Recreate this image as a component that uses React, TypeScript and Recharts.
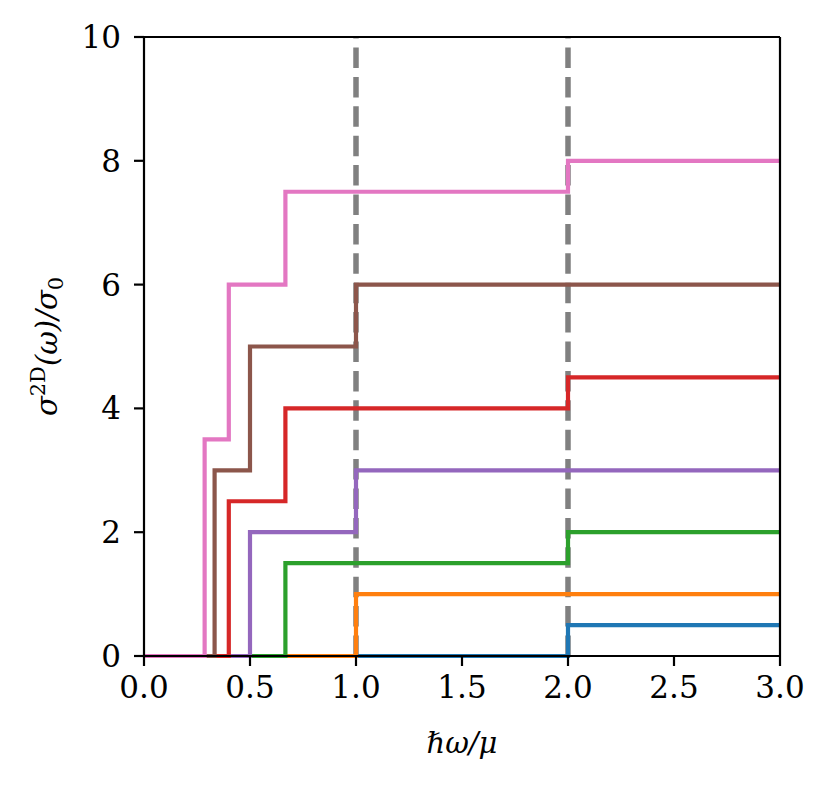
import { LineChart, Line, XAxis, YAxis, ReferenceLine, Label } from 'recharts'

// step positions (hbar*omega/mu) and the plateau values reached there
const xBlue = [0, 2, 3]
const yBlue = [0, 0.5, 0.5]
const xOrange = [0, 1, 3]
const yOrange = [0, 1, 1]
const xGreen = [0, 0.667, 2, 3]
const yGreen = [0, 1.5, 2, 2]
const xPurple = [0, 0.5, 1, 3]
const yPurple = [0, 2, 3, 3]
const xRed = [0, 0.4, 0.667, 2, 3]
const yRed = [0, 2.5, 4, 4.5, 4.5]
const xBrown = [0, 0.333, 0.5, 1, 3]
const yBrown = [0, 3, 5, 6, 6]
const xPink = [0, 0.286, 0.4, 0.667, 2, 3]
const yPink = [0, 3.5, 6, 7.5, 8, 8]

const xTicks = [0, 0.5, 1, 1.5, 2, 2.5, 3]
const yTicks = [0, 2, 4, 6, 8, 10]
const dashedAt = [1, 2]

const series = [
  { name: 'blue', color: '#1f77b4', xs: xBlue, ys: yBlue },
  { name: 'orange', color: '#ff7f0e', xs: xOrange, ys: yOrange },
  { name: 'green', color: '#2ca02c', xs: xGreen, ys: yGreen },
  { name: 'purple', color: '#9467bd', xs: xPurple, ys: yPurple },
  { name: 'red', color: '#d62728', xs: xRed, ys: yRed },
  { name: 'brown', color: '#8c564b', xs: xBrown, ys: yBrown },
  { name: 'pink', color: '#e377c2', xs: xPink, ys: yPink },
]

const FONT = 'DejaVu Serif'
const tickStyle = { fill: '#000', fontSize: 31, fontFamily: FONT }
const blackLine = { stroke: '#000', strokeWidth: 2.2 }

const XTitle = ({ viewBox }: any) => (
  <text
    x={viewBox.x + viewBox.width / 2}
    y={viewBox.y + 97}
    textAnchor="middle"
    fontFamily={FONT}
    fontStyle="italic"
    fontSize={29}
    fill="#000"
  >
    ℏω/μ
  </text>
)

const YTitle = ({ viewBox }: any) => {
  const cx = 57
  const cy = viewBox.y + viewBox.height / 2
  return (
    <text
      x={cx}
      y={cy}
      transform={`rotate(-90, ${cx}, ${cy})`}
      textAnchor="middle"
      fontFamily={FONT}
      fontSize={29}
      fill="#000"
    >
      <tspan fontStyle="italic">σ</tspan>
      <tspan dy={-12} fontSize={21}>2D</tspan>
      <tspan dy={12} fontStyle="italic">(ω)/σ</tspan>
      <tspan dy={6} fontSize={21}>0</tspan>
    </text>
  )
}

export default function App() {
  return (
    <div style={{ width: 832, height: 788 }}>
      <style>{'body{margin:0}'}</style>
      <LineChart
        width={832}
        height={788}
        margin={{ top: 37, right: 52, bottom: 32, left: 0 }}
      >
        <XAxis
          type="number"
          dataKey="x"
          domain={[0, 3]}
          ticks={xTicks}
          interval={0}
          height={100}
          tickSize={10}
          tickMargin={10}
          tick={tickStyle}
          tickLine={blackLine}
          axisLine={blackLine}
          tickFormatter={(v: number) => v.toFixed(1)}
        >
          <Label content={XTitle} />
        </XAxis>
        <YAxis
          type="number"
          dataKey="y"
          domain={[0, 10]}
          ticks={yTicks}
          interval={0}
          width={144}
          tickSize={10}
          tickMargin={13}
          tick={tickStyle}
          tickLine={blackLine}
          axisLine={blackLine}
        >
          <Label content={YTitle} />
        </YAxis>
        {dashedAt.map((x) => (
          <ReferenceLine
            key={x}
            x={x}
            stroke="#808080"
            strokeWidth={5.5}
            strokeDasharray="20.5 8.9"
            zIndex={50}
          />
        ))}
        {series.map((s) => (
          <Line
            key={s.name}
            type="stepAfter"
            data={s.xs.map((x, i) => ({ x, y: s.ys[i] }))}
            dataKey="y"
            stroke={s.color}
            strokeWidth={4.2}
            dot={false}
            activeDot={false}
            isAnimationActive={false}
          />
        ))}
        <ReferenceLine y={10} stroke="#000" strokeWidth={2.2} />
        <ReferenceLine x={3} stroke="#000" strokeWidth={2.2} />
      </LineChart>
    </div>
  )
}
